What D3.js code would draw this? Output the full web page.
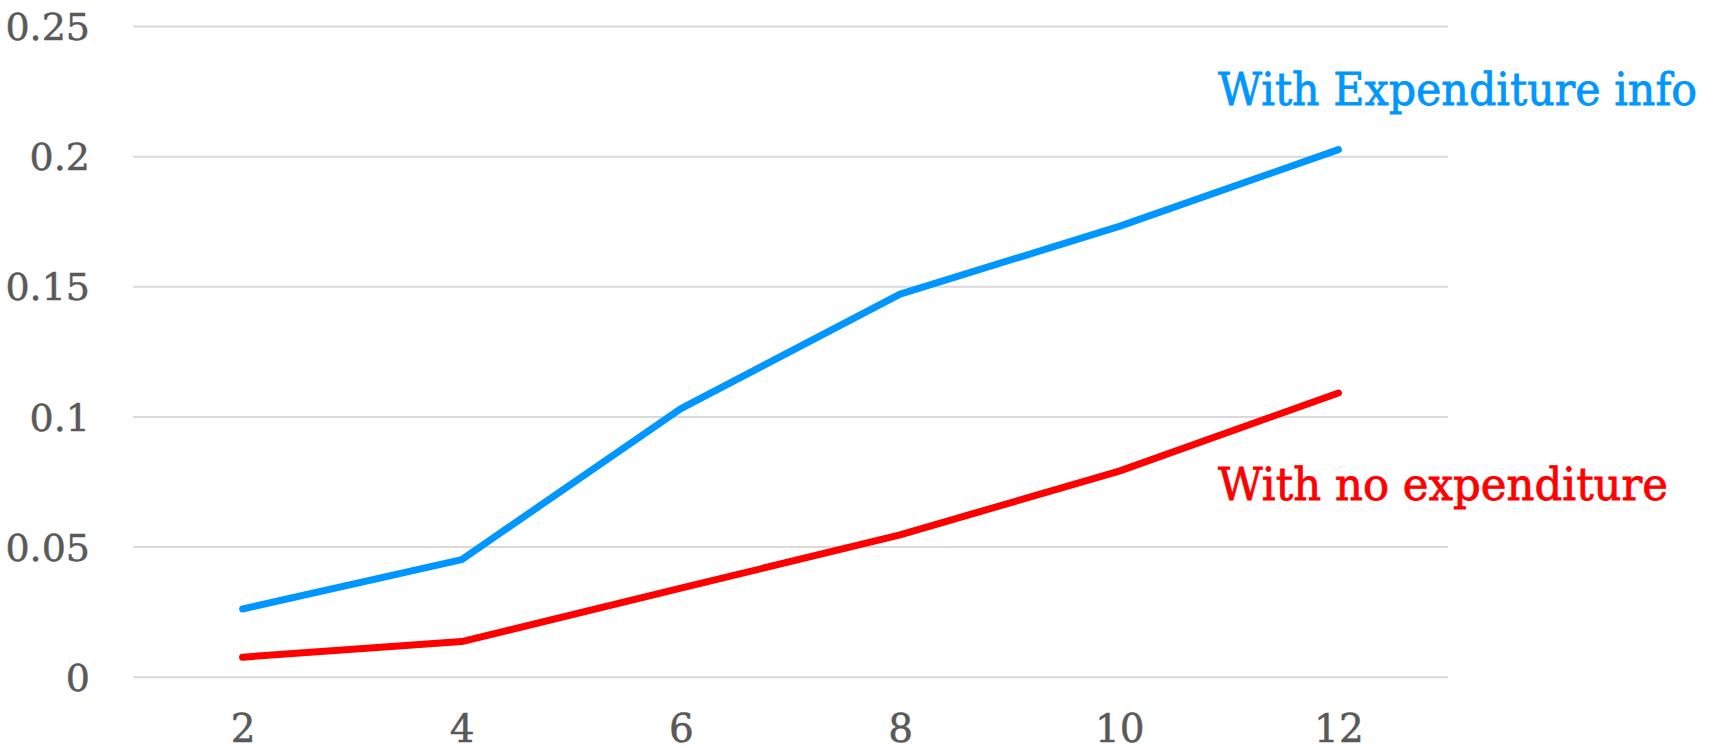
<!DOCTYPE html>
<html>
<head>
<meta charset="utf-8">
<script src="https://cdn.jsdelivr.net/npm/d3@7"></script>
<style>
  html, body { margin: 0; padding: 0; background: #fff; }
  svg { display: block; }
  .tick text { font-family: "DejaVu Serif", serif; fill: #595959; stroke: #595959; stroke-width: 0.5; }
</style>
</head>
<body>
<svg id="chart" width="1717" height="747"></svg>
<script>
// Horizon (months) on the x axis
const horizons = [2, 4, 6, 8, 10, 12];
// Series values
const withExpenditure = [0.026, 0.045, 0.103, 0.147, 0.173, 0.2025];
const noExpenditure = [0.0075, 0.0135, 0.034, 0.0545, 0.079, 0.109];
// Y tick values and labels
const yTicks = [0, 0.05, 0.1, 0.15, 0.2, 0.25];
const yTickLabels = ["0", "0.05", "0.1", "0.15", "0.2", "0.25"];
const seriesNames = ["With Expenditure info", "With no expenditure"];

const svg = d3.select("#chart");
const margin = { left: 133, right: 269, top: 26, bottom: 70 };
const W = 1717, H = 747;

const x = d3.scalePoint()
  .domain(horizons)
  .range([margin.left, W - margin.right])
  .padding(0.5);

const y = d3.scaleLinear()
  .domain([0, 0.25])
  .range([H - margin.bottom - 0.3, margin.top]);

// Horizontal gridlines with y labels
const yAxis = svg.append("g")
  .attr("transform", `translate(${margin.left},0)`)
  .call(d3.axisLeft(y)
    .tickValues(yTicks)
    .tickFormat((d, i) => yTickLabels[i])
    .tickSize(-(W - margin.left - margin.right))
    .tickPadding(43));
yAxis.select(".domain").remove();
yAxis.selectAll(".tick line").attr("stroke", "#d9d9d9").attr("stroke-width", 2);
yAxis.selectAll(".tick text").attr("font-size", 38).attr("dy", "0.36em");

// X axis labels
const xAxis = svg.append("g")
  .attr("transform", `translate(0,${y(0)})`)
  .call(d3.axisBottom(x).tickSize(0).tickPadding(38));
xAxis.select(".domain").remove();
xAxis.selectAll(".tick text").attr("font-size", 39).attr("dy", "0.71em");

const line = d3.line()
  .x((d, i) => x(horizons[i]))
  .y(d => y(d));

const series = [
  { name: seriesNames[0], values: withExpenditure, color: "#0096ff", lx: 1218, ly: 105, len: 479 },
  { name: seriesNames[1], values: noExpenditure, color: "#ff0000", lx: 1218, ly: 500, len: 450 }
];

svg.selectAll("path.series")
  .data(series)
  .join("path")
  .attr("class", "series")
  .attr("fill", "none")
  .attr("stroke", d => d.color)
  .attr("stroke-width", 7)
  .attr("stroke-linecap", "round")
  .attr("stroke-linejoin", "round")
  .attr("d", d => line(d.values));

svg.selectAll("text.series-label")
  .data(series)
  .join("text")
  .attr("class", "series-label")
  .attr("x", d => d.lx)
  .attr("y", d => d.ly)
  .attr("fill", d => d.color)
  .attr("stroke", d => d.color)
  .attr("stroke-width", 0.8)
  .attr("font-family", "'DejaVu Serif', serif")
  .attr("font-size", 44)
  .attr("textLength", d => d.len)
  .attr("lengthAdjust", "spacingAndGlyphs")
  .text(d => d.name);
</script>
</body>
</html>
